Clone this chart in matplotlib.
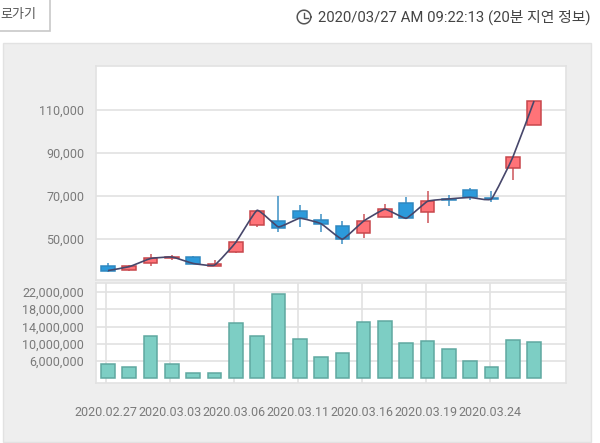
import matplotlib
matplotlib.use("Agg")
import numpy as np
import matplotlib.pyplot as plt
from matplotlib.patches import Rectangle, PathPatch
from matplotlib.path import Path
from matplotlib.lines import Line2D
from matplotlib.ticker import FuncFormatter

# --- data (prices in won, volume in shares) ---
opens  = [37500, 35500, 38900, 40900, 41400, 37200, 43700, 56300, 58200, 63100, 58600,
          56000, 52500, 60200, 66800, 62300, 68500, 72800, 69100, 82900, 103100]
closes = [35100, 37100, 40800, 41500, 38300, 38200, 48500, 62900, 55200, 59500, 56900,
          49800, 58200, 64000, 59500, 67400, 68000, 69200, 68300, 87800, 114000]
highs  = [38600, 37700, 42900, 42300, 41800, 40200, 48500, 63500, 70000, 65700, 61700,
          58200, 61700, 66000, 69400, 72200, 70500, 73700, 72200, 87800, 114000]
lows   = [34600, 35200, 37400, 40200, 38300, 37100, 43400, 55500, 53200, 55500, 53200,
          47400, 50500, 60200, 59500, 57100, 65200, 68000, 67200, 77100, 103100]
line_values = [35200, 37000, 40800, 41500, 38500, 37700, 48300, 63200, 55500, 59500, 57000,
               49800, 58200, 63700, 59500, 67400, 68500, 69200, 68500, 87800, 114000]
volumes = [5310000, 4760000, 11800000, 5310000, 3380000, 3380000, 14740000, 11800000,
           21470000, 11200000, 6920000, 7980000, 15030000, 15260000, 10140000, 10670000,
           8760000, 6000000, 4760000, 10900000, 10370000]
date_labels = ["2020.02.27", "2020.03.03", "2020.03.06", "2020.03.11",
               "2020.03.16", "2020.03.19", "2020.03.24"]
date_positions = [0, 3, 6, 9, 12, 15, 18]
price_ticks = [50000, 70000, 90000, 110000]
volume_ticks = [6000000, 10000000, 14000000, 18000000, 22000000]
timestamp = "2020/03/27 AM 09:22:13 (20분 지연 정보)"
button_text = "로가기"

W, H = 600, 443
TICKFONT = ["Roboto"]
KR = "Noto Sans CJK KR"
TICK = "#7a7a7a"
GRID = "#e2e2e2"

fig = plt.figure(figsize=(W / 100, H / 100), dpi=100, facecolor="white")

def fx(px): return px / W
def fy(py): return 1 - py / H
def axes_px(l, t, r, b):
    return fig.add_axes([fx(l), fy(b), (r - l) / W, (b - t) / H])

fig.add_artist(Rectangle((fx(2.5), fy(442)), (591 - 2.5) / W, (442 - 43) / H,
                         transform=fig.transFigure, fc="#eeeeee", ec="#e2e2e2", lw=1, zorder=-2))
fig.add_artist(Rectangle((fx(-5), fy(31)), 54.5 / W, 32 / H, transform=fig.transFigure,
                         fc="white", ec="#c8c8c8", lw=1.2, zorder=-2))
fig.text(fx(36), fy(14.5), button_text, family=[KR], fontsize=9.4, color="#555555",
         ha="right", va="center")

# clock icon
clock_x, clock_y = 304, 17
t = np.linspace(0, 2 * np.pi, 60)
fig.add_artist(Line2D(fx(clock_x + 6.8 * np.cos(t)), fy(clock_y + 6.8 * np.sin(t)),
                      transform=fig.transFigure, color="#555555", lw=1.1))
fig.add_artist(Line2D([fx(clock_x), fx(clock_x), fx(clock_x + 4)],
                      [fy(clock_y - 4.5), fy(clock_y + 0.5), fy(clock_y + 0.5)],
                      transform=fig.transFigure, color="#555555", lw=1.0))
fig.text(fx(318), fy(17), timestamp, family=["Roboto", KR], fontsize=10.7, color="#444444",
         ha="left", va="center")

xlim = (-0.563, 21.5)
ax1 = axes_px(96, 66, 566, 280)
ax2 = axes_px(96, 282.5, 566, 382.5)

for ax in (ax1, ax2):
    ax.set_xlim(*xlim)
    ax.set_facecolor("white")
    ax.set_axisbelow(True)
    for s in ax.spines.values():
        s.set_color(GRID)
        s.set_linewidth(1.2)
    ax.tick_params(length=0, labelcolor=TICK)
    ax.grid(axis="y", color=GRID, lw=1.2)

idx = np.arange(len(closes))

# price panel
ax1.set_ylim(30800, 130300)
ax1.set_yticks(price_ticks)
ax1.yaxis.set_major_formatter(FuncFormatter(lambda v, _: f"{int(v):,}"))
ax1.set_xticks([])
ax1.tick_params(axis="y", pad=8.5)
for lab in ax1.get_yticklabels():
    lab.set_family(TICKFONT); lab.set_fontsize(9)

for i, o, c, h, l in zip(idx, opens, closes, highs, lows):
    up = c >= o
    fc = "#ff7378" if up else "#2c9adb"
    ec = "#c8474c" if up else "#2f88c0"
    ax1.plot([i, i], [l, h], color=ec, lw=1.2, alpha=0.85, zorder=3, solid_capstyle="butt")
    ax1.add_patch(Rectangle((i - 0.32, min(o, c)), 0.64, abs(c - o), fc=fc, ec=ec, lw=1.1, zorder=4))

# smooth close line (Catmull-Rom through the values)
pts = np.column_stack([idx, line_values]).astype(float)
verts, codes = [pts[0]], [Path.MOVETO]
for k in range(len(pts) - 1):
    p0 = pts[max(k - 1, 0)]; p1 = pts[k]; p2 = pts[k + 1]; p3 = pts[min(k + 2, len(pts) - 1)]
    tension = 0.06
    verts += [p1 + (p2 - p0) * tension, p2 - (p3 - p1) * tension, p2]
    codes += [Path.CURVE4] * 3
ax1.add_patch(PathPatch(Path(verts, codes), fc="none", ec="#47476b", lw=1.2, zorder=5))

# volume panel
ax2.set_ylim(1080000, 24160000)
ax2.set_yticks(volume_ticks)
ax2.yaxis.set_major_formatter(FuncFormatter(lambda v, _: f"{int(v):,}"))
ax2.tick_params(axis="y", pad=8.5)
ax2.set_xticks(np.array(date_positions) - 0.08)
ax2.set_xticklabels(date_labels)
ax2.grid(axis="x", color=GRID, lw=1.2)
ax2.tick_params(axis="x", pad=17)
for lab in ax2.get_yticklabels() + ax2.get_xticklabels():
    lab.set_family(TICKFONT); lab.set_fontsize(9)

base = 2200000
ax2.bar(idx, np.array(volumes) - base, bottom=base, width=0.64, color="#7dcec4",
        edgecolor="#5fa8a0", linewidth=1.1, zorder=3)

fig.savefig("out.png", dpi=100)
